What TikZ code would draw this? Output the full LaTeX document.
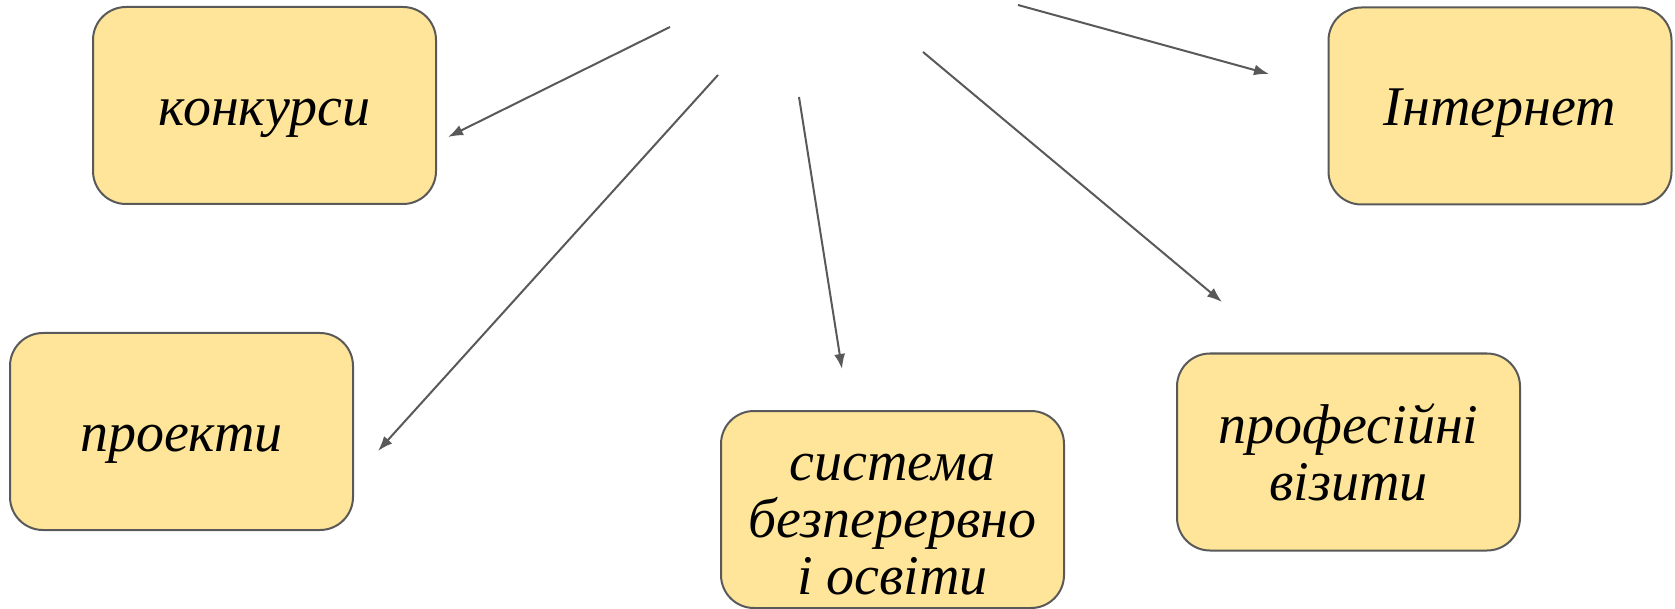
\documentclass[tikz,border=0pt]{standalone}
\usepackage{fontspec}
\setmainfont{Liberation Serif}
\usetikzlibrary{arrows.meta}

\definecolor{boxfill}{HTML}{FFE599}
\definecolor{edge}{HTML}{595959}

\tikzset{
  box/.style={draw=edge,fill=boxfill,line width=2pt,rounded corners=33pt,
    minimum width=343pt,minimum height=197pt,inner sep=0pt,align=center,
    font=\fontsize{56}{57}\selectfont\itshape},
  oneline/.style={text height=40pt,text depth=0pt},
  link/.style={->,draw=edge,line width=2pt}
}

\begin{document}
\begin{tikzpicture}[x=1pt,y=-1pt,>={Latex[length=15pt,width=11pt]}]
\useasboundingbox (0,0) rectangle (1675,609);
\node (konk) at (264.5,105.5) [box,oneline] {конкурси};
\node (inet) at (1500,106) [box,oneline] {Інтернет};
\node (proj) at (181.5,431.5) [box,oneline] {проекти};
\node (osv) at (892.5,509.5) [box,text height=169pt,text depth=0pt] {система\\безперервно\\і освіти};
\node (viz) at (1348.5,452) [box] {професійні\\візити};
% free ends of the arrows
\coordinate (s1) at (670,27);
\coordinate (e1) at (448,137);
\coordinate (s2) at (718,75);
\coordinate (e2) at (378,451);
\coordinate (s3) at (799,97);
\coordinate (e3) at (842,369);
\coordinate (s4) at (923,52);
\coordinate (e4) at (1222,302);
\coordinate (s5) at (1018,5);
\coordinate (e5) at (1269,74);
\draw[link] (s1) -- (e1);
\draw[link] (s2) -- (e2);
\draw[link] (s3) -- (e3);
\draw[link] (s4) -- (e4);
\draw[link] (s5) -- (e5);
\end{tikzpicture}
\end{document}
